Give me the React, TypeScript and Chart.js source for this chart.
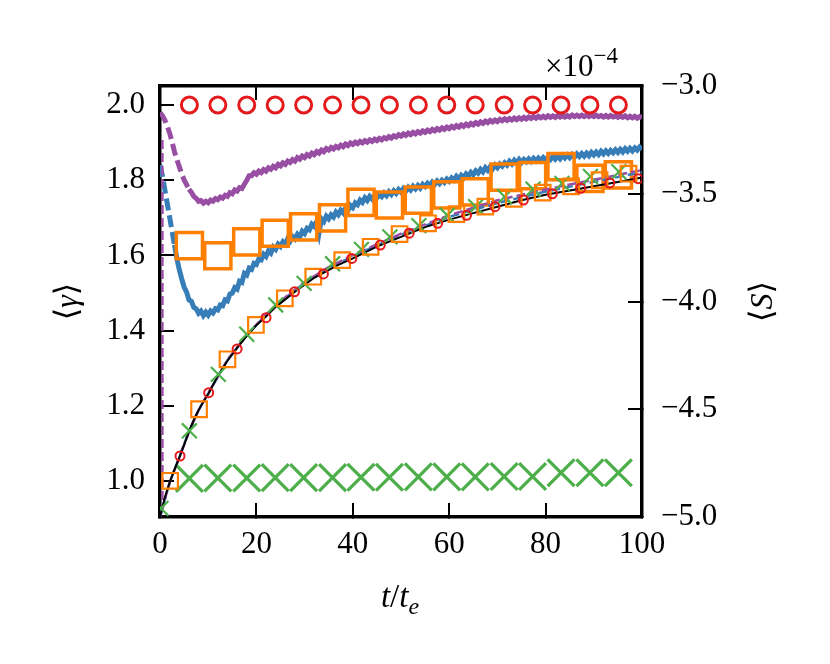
import React, { useEffect, useRef } from 'react';
import { Chart, registerables } from 'chart.js';

Chart.register(...registerables);

const RED = '#e41a1c';
const BLUE = '#377eb8';
const GREEN = '#4daf4a';
const PURPLE = '#984ea3';
const ORANGE = '#ff7f00';
const FONT_FAMILY = '"Liberation Serif", "DejaVu Serif", serif';
const NONE = 'rgba(0,0,0,0)';

// time grid of the noisy <gamma> traces (every 0.5 t_e)
const tFine = Array.from({ length: 201 }, (_, i) => i * 0.5);

const gammaBlue = [
  1.840, 1.812, 1.775, 1.738, 1.702, 1.664, 1.628, 1.592, 1.562, 1.538,
  1.516, 1.503, 1.482, 1.478, 1.462, 1.458, 1.446, 1.452, 1.440, 1.449,
  1.441, 1.452, 1.447, 1.458, 1.455, 1.468, 1.466, 1.482, 1.479, 1.497,
  1.500, 1.514, 1.510, 1.531, 1.528, 1.552, 1.548, 1.566, 1.563, 1.579,
  1.576, 1.591, 1.588, 1.603, 1.597, 1.612, 1.606, 1.622, 1.616, 1.630,
  1.624, 1.636, 1.630, 1.645, 1.638, 1.650, 1.644, 1.656, 1.649, 1.664,
  1.658, 1.672, 1.668, 1.683, 1.677, 1.690, 1.660, 1.697, 1.690, 1.704,
  1.697, 1.708, 1.702, 1.715, 1.708, 1.720, 1.713, 1.726, 1.719, 1.733,
  1.727, 1.740, 1.735, 1.747, 1.741, 1.753, 1.746, 1.757, 1.750, 1.760,
  1.753, 1.762, 1.756, 1.766, 1.759, 1.769, 1.762, 1.772, 1.765, 1.775,
  1.768, 1.778, 1.771, 1.781, 1.774, 1.784, 1.777, 1.786, 1.779, 1.789,
  1.783, 1.792, 1.786, 1.795, 1.789, 1.798, 1.791, 1.800, 1.794, 1.803,
  1.797, 1.806, 1.800, 1.810, 1.803, 1.813, 1.807, 1.817, 1.811, 1.821,
  1.815, 1.825, 1.819, 1.829, 1.822, 1.833, 1.826, 1.836, 1.830, 1.840,
  1.833, 1.843, 1.837, 1.846, 1.840, 1.850, 1.843, 1.853, 1.846, 1.855,
  1.847, 1.855, 1.849, 1.857, 1.850, 1.858, 1.851, 1.859, 1.852, 1.860,
  1.853, 1.861, 1.855, 1.863, 1.856, 1.864, 1.857, 1.866, 1.859, 1.867,
  1.860, 1.868, 1.861, 1.870, 1.863, 1.871, 1.864, 1.872, 1.865, 1.874,
  1.867, 1.875, 1.868, 1.877, 1.870, 1.878, 1.871, 1.879, 1.873, 1.881,
  1.874, 1.882, 1.875, 1.884, 1.877, 1.885, 1.878, 1.886, 1.880, 1.888,
  1.882,
];

const gammaPurple = [
  1.980, 1.972, 1.960, 1.944, 1.925, 1.902, 1.876, 1.855, 1.836, 1.817,
  1.801, 1.789, 1.776, 1.768, 1.757, 1.752, 1.744, 1.746, 1.739, 1.744,
  1.740, 1.747, 1.744, 1.751, 1.748, 1.755, 1.752, 1.760, 1.757, 1.767,
  1.764, 1.774, 1.771, 1.780, 1.778, 1.789, 1.800, 1.812, 1.812, 1.820,
  1.816, 1.824, 1.820, 1.828, 1.824, 1.833, 1.829, 1.837, 1.833, 1.842,
  1.838, 1.846, 1.842, 1.851, 1.847, 1.855, 1.851, 1.860, 1.856, 1.864,
  1.860, 1.868, 1.864, 1.872, 1.868, 1.876, 1.872, 1.880, 1.876, 1.884,
  1.880, 1.887, 1.883, 1.890, 1.886, 1.893, 1.889, 1.896, 1.892, 1.899,
  1.895, 1.901, 1.897, 1.903, 1.899, 1.905, 1.901, 1.907, 1.903, 1.909,
  1.905, 1.911, 1.907, 1.913, 1.910, 1.916, 1.912, 1.918, 1.915, 1.921,
  1.917, 1.923, 1.919, 1.925, 1.921, 1.927, 1.923, 1.929, 1.925, 1.931,
  1.927, 1.933, 1.929, 1.935, 1.931, 1.937, 1.933, 1.939, 1.935, 1.941,
  1.937, 1.943, 1.939, 1.945, 1.941, 1.947, 1.943, 1.949, 1.945, 1.951,
  1.947, 1.953, 1.949, 1.955, 1.951, 1.957, 1.953, 1.959, 1.955, 1.960,
  1.956, 1.962, 1.958, 1.963, 1.959, 1.964, 1.960, 1.965, 1.961, 1.966,
  1.962, 1.967, 1.963, 1.968, 1.964, 1.969, 1.965, 1.970, 1.966, 1.970,
  1.966, 1.971, 1.967, 1.971, 1.967, 1.972, 1.968, 1.972, 1.968, 1.972,
  1.968, 1.973, 1.969, 1.973, 1.969, 1.973, 1.969, 1.973, 1.969, 1.973,
  1.969, 1.973, 1.969, 1.972, 1.968, 1.972, 1.968, 1.972, 1.968, 1.971,
  1.967, 1.971, 1.967, 1.971, 1.966, 1.970, 1.966, 1.970, 1.965, 1.969,
  1.966,
];

// big markers on the <gamma> axis
const tBig = [6.1, 12.0, 18.0, 23.9, 29.8, 35.8, 41.7, 47.6, 53.6, 59.5, 65.4, 71.4, 77.3, 83.2, 89.2, 95.1];
const gammaRed = [2.0, 2.0, 2.0, 2.0, 2.0, 2.0, 2.0, 2.0, 2.0, 2.0, 2.0, 2.0, 2.0, 2.0, 2.0, 2.0];
const gammaOrange = [1.626, 1.599, 1.636, 1.659, 1.676, 1.700, 1.741, 1.734, 1.747, 1.761, 1.769, 1.808, 1.812, 1.836, 1.805, 1.814];
const gammaGreen = [1.007, 1.008, 1.008, 1.009, 1.009, 1.009, 1.010, 1.010, 1.011, 1.011, 1.011, 1.012, 1.012, 1.022, 1.022, 1.022];

// <S> in units of 1e-4
const tS = [0, 1, 2, 3, 4, 5, 6, 7, 8, 9, 10, 12, 14, 16, 18, 20, 22, 24, 26, 28, 30, 32, 34, 37, 40, 45, 50, 55, 60, 65, 70, 75, 80, 85, 90, 95, 100];
const sBlack = [-5.0, -4.91, -4.84, -4.78, -4.725, -4.665, -4.605, -4.55, -4.505, -4.465, -4.43, -4.345, -4.275, -4.215, -4.16, -4.11, -4.07, -4.025, -3.99, -3.955, -3.922, -3.89, -3.866, -3.83, -3.80, -3.745, -3.70, -3.655, -3.62, -3.59, -3.56, -3.53, -3.505, -3.485, -3.465, -3.445, -3.425];

const tSBlue = [0, 2, 4, 6, 8, 10, 14, 18, 22, 26, 30, 35, 40, 50, 60, 70, 80, 90, 100];
const sBlue = [-5.0, -4.84, -4.722, -4.603, -4.503, -4.427, -4.272, -4.157, -4.062, -3.983, -3.914, -3.845, -3.79, -3.69, -3.607, -3.543, -3.49, -3.445, -3.40];

const tSPurple = [0.5, 0.5, 2, 4, 6, 8, 10, 14, 18, 22, 26, 30, 35, 40, 50, 60, 70, 80, 90, 100];
const sPurple = [-3.25, -4.96, -4.84, -4.725, -4.605, -4.505, -4.425, -4.27, -4.155, -4.06, -3.98, -3.91, -3.84, -3.785, -3.685, -3.60, -3.53, -3.48, -3.435, -3.39];

const tSRed = [4.15, 10.1, 16.0, 22.0, 27.9, 33.9, 39.8, 45.7, 51.7, 57.6, 63.6, 69.5, 75.4, 81.4, 87.3, 93.3, 99.2];
const sRed = [-4.717, -4.423, -4.22, -4.075, -3.955, -3.872, -3.80, -3.738, -3.683, -3.637, -3.60, -3.56, -3.529, -3.50, -3.475, -3.45, -3.43];

const tSOrange = [2.1, 8.1, 14.0, 19.9, 25.9, 31.8, 37.8, 43.7, 49.7, 55.6, 61.5, 67.5, 73.4, 79.4, 85.3, 91.2, 97.2];
const sOrange = [-4.832, -4.50, -4.268, -4.109, -3.985, -3.885, -3.808, -3.746, -3.687, -3.637, -3.594, -3.56, -3.524, -3.495, -3.466, -3.437, -3.407];

const tSGreen = [0.2, 6.1, 12.1, 18.0, 24.0, 29.9, 35.8, 41.8, 47.7, 53.7, 59.6, 65.5, 71.5, 77.4, 83.4, 89.3, 95.2];
const sGreen = [-4.96, -4.60, -4.338, -4.152, -4.016, -3.916, -3.825, -3.758, -3.70, -3.648, -3.60, -3.56, -3.514, -3.479, -3.452, -3.42, -3.398];

const xTicks = [0, 20, 40, 60, 80, 100];

const pts = (xs: number[], ys: number[]) => xs.map((x, i) => ({ x, y: ys[i] }));

type Run = { text: string; size: number; italic?: boolean; dy?: number };

function drawRuns(ctx: CanvasRenderingContext2D, runs: Run[], x: number, y: number, align: 'center' | 'left') {
  const fontOf = (r: Run) => `${r.italic ? 'italic ' : ''}${r.size}px ${FONT_FAMILY}`;
  const widths = runs.map((r) => {
    ctx.font = fontOf(r);
    return ctx.measureText(r.text).width;
  });
  const total = widths.reduce((a, b) => a + b, 0);
  let cx = align === 'center' ? x - total / 2 : x;
  runs.forEach((r, i) => {
    ctx.font = fontOf(r);
    ctx.fillText(r.text, cx, y + (r.dy || 0));
    cx += widths[i];
  });
}

const titlesPlugin = {
  id: 'titles',
  afterDraw(chart: any) {
    const ctx: CanvasRenderingContext2D = chart.ctx;
    const area = chart.chartArea;
    const midY = (area.top + area.bottom) / 2;
    ctx.save();
    ctx.fillStyle = '#000';
    ctx.textAlign = 'left';
    ctx.textBaseline = 'alphabetic';

    ctx.save();
    ctx.translate(67, midY);
    ctx.rotate(-Math.PI / 2);
    drawRuns(ctx, [
      { text: '⟨', size: 32 },
      { text: 'γ', size: 32, italic: true },
      { text: '⟩', size: 32 },
    ], 0, 10, 'center');
    ctx.restore();

    ctx.save();
    ctx.translate(762, midY);
    ctx.rotate(-Math.PI / 2);
    drawRuns(ctx, [
      { text: '⟨', size: 32 },
      { text: 'S', size: 32, italic: true },
      { text: '⟩', size: 32 },
    ], 0, 10, 'center');
    ctx.restore();

    drawRuns(ctx, [
      { text: 't', size: 33, italic: true },
      { text: '/', size: 33 },
      { text: 't', size: 33, italic: true },
      { text: 'e', size: 24, italic: true, dy: 7 },
    ], (area.left + area.right) / 2 - 1, 607, 'center');

    drawRuns(ctx, [
      { text: '×10', size: 31 },
      { text: '−4', size: 23, dy: -13 },
    ], 545, 76, 'left');

    ctx.restore();
  },
};

const tickFont = { family: FONT_FAMILY, size: 31 };
const gridIn = { drawOnChartArea: false, drawTicks: true, tickLength: -14, lineWidth: 2, color: '#000' };
const frame = { display: true, width: 3.5, color: '#000' };

const App: React.FC = () => {
  const canvasRef = useRef<HTMLCanvasElement>(null);
  const chartRef = useRef<Chart | null>(null);

  useEffect(() => {
    if (!canvasRef.current) return;
    const ctx = canvasRef.current.getContext('2d');
    if (!ctx) return;
    if (chartRef.current) chartRef.current.destroy();

    const marker = (data: any[], style: string, color: string, radius: number, width: number, axis: string) => ({
      type: 'line' as const,
      data,
      yAxisID: axis,
      showLine: false,
      pointStyle: style,
      pointRadius: radius,
      pointBorderWidth: width,
      pointBorderColor: color,
      pointBackgroundColor: NONE,
      borderColor: color,
      backgroundColor: NONE,
    });

    const line = (data: any[], color: string, width: number, dash: number[], axis: string) => ({
      type: 'line' as const,
      data,
      yAxisID: axis,
      borderColor: color,
      backgroundColor: NONE,
      borderWidth: width,
      borderDash: dash,
      pointRadius: 0,
      tension: 0,
    });

    // noisy trace: dashes only show where the curve is still smooth and steep
    const noisy = (data: any[], color: string, dashUntil: number) => ({
      ...line(data, color, 5, [], 'y'),
      segment: {
        borderDash: (c: any) => (c.p0.parsed.x < dashUntil ? [12, 5] : undefined),
      },
    });

    chartRef.current = new Chart(ctx, {
      type: 'line',
      data: {
        datasets: [
          marker(pts(tSRed, sRed), 'circle', RED, 4.5, 2, 'y2'),
          marker(pts(tSOrange, sOrange), 'rect', ORANGE, 11, 2.2, 'y2'),
          marker(pts(tSGreen, sGreen), 'crossRot', GREEN, 10.5, 2.2, 'y2'),
          line(pts(tS, sBlack), '#000', 2, [], 'y2'),
          line(pts(tSPurple, sPurple), PURPLE, 2.5, [9, 4], 'y2'),
          line(pts(tSBlue, sBlue), BLUE, 2.5, [9, 4], 'y2'),
          marker(pts(tBig, gammaRed), 'circle', RED, 8, 3, 'y'),
          marker(pts(tBig, gammaOrange), 'rect', ORANGE, 18.5, 3.5, 'y'),
          marker(pts(tBig, gammaGreen), 'crossRot', GREEN, 19, 3.3, 'y'),
          noisy(pts(tFine, gammaPurple), PURPLE, 6),
          noisy(pts(tFine, gammaBlue), BLUE, 3),
        ],
      },
      options: {
        animation: false,
        responsive: false,
        layout: { padding: 0 },
        plugins: {
          legend: { display: false },
          tooltip: { enabled: false },
        },
        scales: {
          x: {
            type: 'linear',
            position: 'bottom',
            min: 0,
            max: 100,
            afterBuildTicks: (s: any) => { s.ticks = xTicks.map((v) => ({ value: v })); },
            ticks: { font: tickFont, color: '#000', padding: 23, maxRotation: 0, callback: (v: any) => String(v) },
            grid: gridIn,
            border: frame,
            afterFit: (s: any) => { s.height = 147; },
          },
          x2: {
            type: 'linear',
            position: 'top',
            min: 0,
            max: 100,
            afterBuildTicks: (s: any) => { s.ticks = xTicks.map((v) => ({ value: v })); },
            ticks: { display: false },
            grid: gridIn,
            border: frame,
            afterFit: (s: any) => { s.height = 86; },
          },
          y: {
            type: 'linear',
            position: 'left',
            min: 0.9043,
            max: 2.0505,
            ticks: {
              stepSize: 0.2,
              includeBounds: false,
              font: tickFont,
              color: '#000',
              padding: 29,
              callback: (v: any) => Number(v).toFixed(1),
            },
            grid: gridIn,
            border: frame,
            afterFit: (s: any) => { s.width = 160; },
          },
          y2: {
            type: 'linear',
            position: 'right',
            min: -5,
            max: -3,
            ticks: {
              stepSize: 0.5,
              font: tickFont,
              color: '#000',
              padding: 33,
              callback: (v: any) => (Number(v) < 0 ? '−' : '') + Math.abs(Number(v)).toFixed(1),
            },
            grid: gridIn,
            border: frame,
            afterFit: (s: any) => { s.width = 188; },
          },
        },
      } as any,
      plugins: [titlesPlugin],
    });

    return () => {
      if (chartRef.current) {
        chartRef.current.destroy();
        chartRef.current = null;
      }
    };
  }, []);

  return (
    <div style={{ position: 'fixed', left: 0, top: 0, width: 830, height: 664, background: '#fff' }}>
      <canvas ref={canvasRef} width={830} height={664} />
    </div>
  );
};

export default App;
